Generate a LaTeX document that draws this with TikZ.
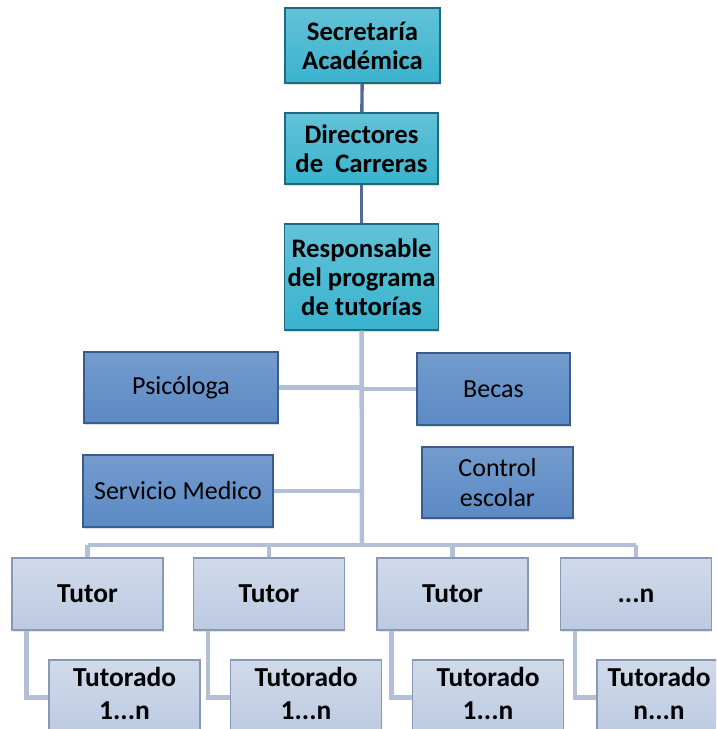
\documentclass[tikz,border=0pt]{standalone}
\usepackage{fontspec}
\setmainfont{Carlito}
\usetikzlibrary{shadows}
\definecolor{cajaA}{HTML}{3AB3CE}
\definecolor{bordeA}{HTML}{1E6A82}
\definecolor{cajaB}{HTML}{5B8AC5}
\definecolor{bordeB}{HTML}{3A5B8C}
\definecolor{cajaC}{HTML}{BCCAE1}
\definecolor{bordeC}{HTML}{8898B6}
\definecolor{lineaA}{HTML}{50699B}
\definecolor{lineaB}{HTML}{B3BFD6}
\begin{document}
\begin{tikzpicture}[x=0.025cm, y=-0.025cm,
    jefe/.style={draw=bordeA, thick, top color=cajaA!80!white, bottom color=cajaA, inner sep=2pt,
        align=center, font=\fontsize{19}{20.5}\selectfont\bfseries,
        drop shadow={opacity=0.25, shadow xshift=0.6pt, shadow yshift=-1.5pt}},
    apoyo/.style={draw=bordeB, thick, top color=cajaB!85!white, bottom color=cajaB, inner sep=2pt,
        align=center, font=\fontsize{18.5}{21}\selectfont,
        drop shadow={opacity=0.25, shadow xshift=0.6pt, shadow yshift=-1.5pt}},
    tutorbox/.style={draw=bordeC, thick, top color=cajaC!70!white, bottom color=cajaC, inner sep=2pt,
        align=center, font=\fontsize{19.5}{23.5}\selectfont\bfseries,
        minimum width=3.775cm, minimum height=1.8cm,
        drop shadow={opacity=0.2, shadow xshift=0.6pt, shadow yshift=-1.5pt}},
    tutorado/.style={tutorbox, minimum height=1.875cm, text depth=0.22cm},
    lineaarriba/.style={draw=lineaA, line width=2.4pt},
    lineaabajo/.style={draw=lineaB, line width=3.2pt}]
    \useasboundingbox (0,0) rectangle (716,729);
    \clip (0,0) rectangle (716,729);
    %Lineas de abajo
    \coordinate (bus) at (362,545);
    \coordinate (busL) at (87.5,545);
    \coordinate (busR) at (636,545);
    %Cajas de arriba
    \node[jefe, minimum width=3.875cm, minimum height=1.875cm] (sec) at (362.5,45.5) {Secretaría\\Académica};
    \node[jefe, minimum width=3.825cm, minimum height=1.775cm] (dir) at (361.5,148.5) {Directores\\de\ \ Carreras};
    \node[jefe, minimum width=3.775cm, minimum height=2.65cm] (resp) at (361.5,277) {Responsable\\del programa\\de tutorías};
    %Apoyo
    \node[apoyo, minimum width=4.85cm, minimum height=1.775cm] (psi) at (181,387.5) {Psicóloga};
    \node[apoyo, minimum width=3.825cm, minimum height=1.8cm] (bec) at (493.5,389) {Becas};
    \node[apoyo, minimum width=4.75cm, minimum height=1.8cm] (med) at (178,491) {Servicio Medico};
    \node[apoyo, minimum width=3.775cm, minimum height=1.775cm] (esc) at (497.5,482.5) {Control\\escolar};
    %Tutores
    \node[tutorbox] (tut1) at (87.5,594) {Tutor};
    \node[tutorbox] (tut2) at (269,594) {Tutor};
    \node[tutorbox] (tut3) at (452.5,594) {Tutor};
    \node[tutorbox] (tut4) at (636,594) {\vphantom{T}...n};
    %Tutorados
    \node[tutorado] (tdo1) at (124.5,697.5) {Tutorado\\1...n};
    \node[tutorado] (tdo2) at (306,697.5) {Tutorado\\1...n};
    \node[tutorado] (tdo3) at (488,697.5) {Tutorado\\1...n};
    \node[tutorado, minimum width=3.1cm] (tdo4) at (659,697.5) {Tutorado\\n...n};
    %Conectores
    \draw[lineaarriba] (sec) -- (dir);
    \draw[lineaarriba] (dir) -- (resp);
    \draw[lineaabajo] (resp) -- (bus);
    \draw[lineaabajo] (psi) -- (psi -| bus);
    \draw[lineaabajo] (bec) -- (bec -| bus);
    \draw[lineaabajo] (med) -- (med -| bus);
    \draw[lineaabajo] (busL) -- (busR);
    \foreach \t in {1,2,3,4}{
        \draw[lineaabajo] (busL -| tut\t) -- (tut\t);
        \draw[lineaabajo] ([xshift=0.375cm]tut\t.south west) |- (tdo\t);
    }
\end{tikzpicture}
\end{document}
